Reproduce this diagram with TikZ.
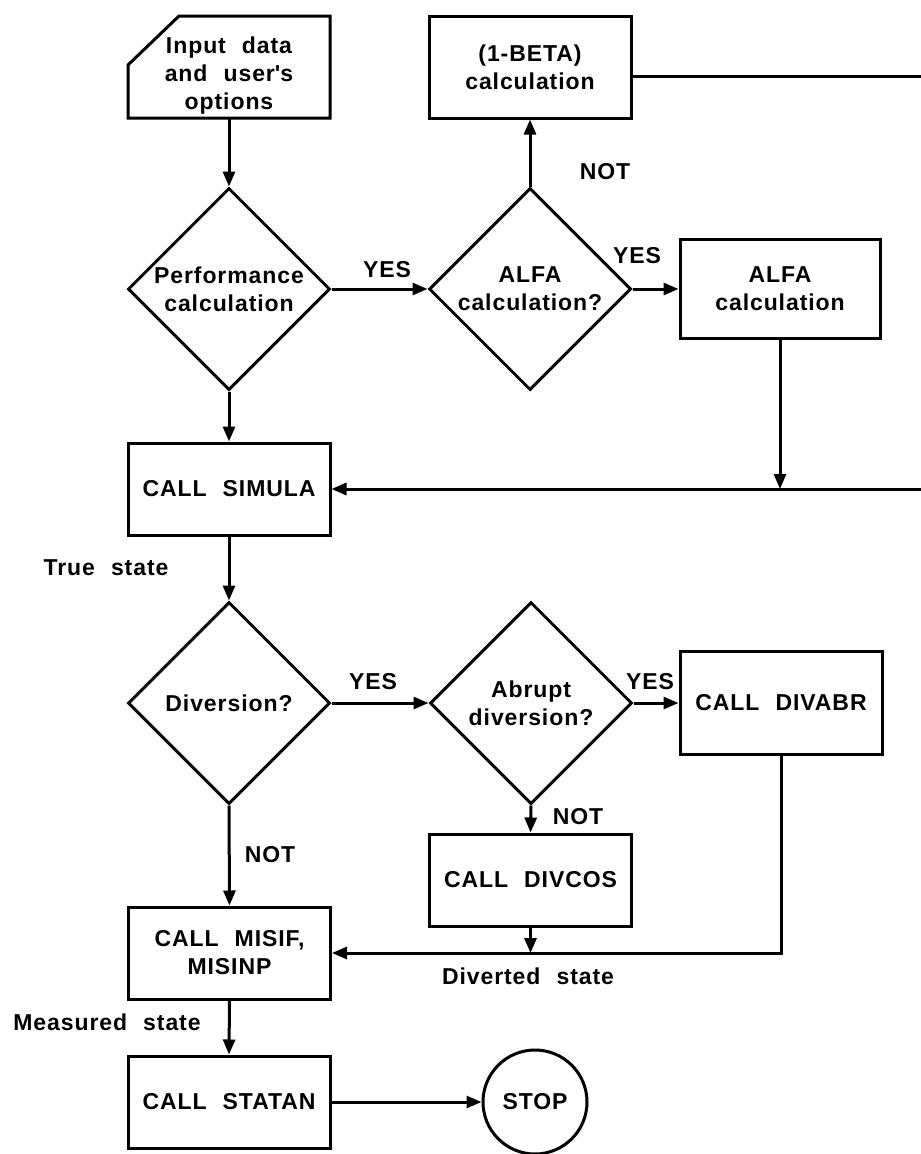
\documentclass[tikz,border=0pt]{standalone}
\usepackage{fontspec}
\setmainfont{Liberation Sans}[LetterSpace=4,WordSpace=2.2]
\usetikzlibrary{arrows.meta,shapes.geometric}

\begin{document}
\begin{tikzpicture}[
  x=1pt, y=-1pt,
  font=\fontsize{23}{28}\selectfont\bfseries,
  box/.style={draw, line width=3pt, align=center, minimum width=202pt, minimum height=92pt, inner sep=0pt},
  dec/.style={draw, diamond, aspect=1, line width=3pt, align=center, minimum size=202pt, inner sep=0pt},
  lbl/.style={inner sep=0pt},
  arr/.style={-{Triangle[length=15pt,width=12pt]}, line width=3pt},
  ln/.style={line width=3pt}
]
\useasboundingbox (0,0) rectangle (921,1154);
% top row
\node[align=center] (input) at (229,76) {Input data\\and user\textquotesingle s\\options};
\draw[ln, shift={(input.center)}] (101,-60) -- (101,42) -- (0,42) coordinate (inbot) -- (-101,42) -- (-101,-11) -- (-50,-60) -- cycle;
\node[box, minimum height=102pt] (beta) at (530,67) {(1-BETA)\\calculation};
\node[dec] (perf) at (229,289) {Performance\\calculation};
\node[dec] (alfaq) at (530,289) {ALFA\\calculation?};
\node[box, minimum width=200pt, minimum height=99pt] (alfa) at (780,289) {ALFA\\calculation};
\node[box] (simula) at (229,489) {CALL SIMULA};
% diversion part
\node[dec] (divq) at (229,703) {Diversion?};
\node[dec] (abruptq) at (531,703) {Abrupt\\diversion?};
\node[box, minimum height=103pt] (divabr) at (781,703) {CALL DIVABR};
\node[box] (divcos) at (530.5,880) {CALL DIVCOS};
\node[box] (misif) at (229.5,953) {CALL MISIF,\\MISINP};
\node[box] (statan) at (229,1102) {CALL STATAN};
\node[draw, circle, line width=3pt, minimum size=104pt, inner sep=0pt] (stop) at (535,1102) {STOP};
% lines leaving the page on the right
\coordinate (edge1) at (921,76);
\coordinate (edge2) at (921,489);
% labels
\node[lbl] (yes1) at (387,270) {YES};
\node[lbl] (not1) at (605,172) {NOT};
\node[lbl] (yes2) at (637,256) {YES};
\node[lbl] (truest) at (106,568) {True state};
\node[lbl] (yes3) at (373,682) {YES};
\node[lbl] (yes4) at (650,682) {YES};
\node[lbl] (not2) at (578,817) {NOT};
\node[lbl] (not3) at (270,855) {NOT};
\node[lbl] (divst) at (528,976) {Diverted state};
\node[lbl] (measst) at (107,1022) {Measured state};
% connectors
\draw[arr] (inbot) -- (perf.north);
\foreach \a/\b in {perf/simula, simula/divq, divq/misif, misif/statan, abruptq/divcos}{\draw[arr] (\a.south) -- (\b.north);}
\foreach \a/\b in {perf/alfaq, alfaq/alfa, divq/abruptq, abruptq/divabr, statan/stop}{\draw[arr] (\a.east) -- (\b.west);}
\draw[arr] (alfaq.north) -- (beta.south);
\draw[ln] (beta.east |- edge1) -- (edge1);
\draw[arr] (alfa.south) -- (alfa.south |- simula.east);
\draw[arr] (edge2) -- (simula.east);
\draw[arr] (divabr.south) |- (misif.east);
\draw[arr] (divcos.south) -- (divcos.south |- misif.east);
\end{tikzpicture}
\end{document}
